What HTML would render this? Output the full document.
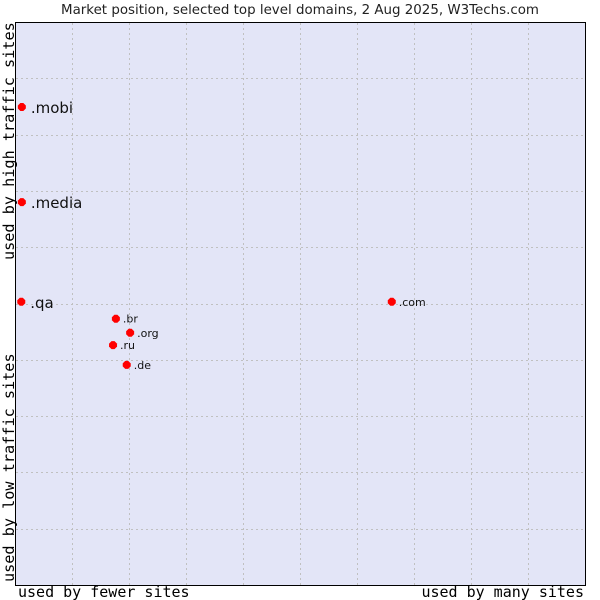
<!DOCTYPE html>
<html><head><meta charset="utf-8"><style>
body{margin:0;background:#fff;}
svg{display:block;font-family:"DejaVu Sans","Liberation Sans",sans-serif;}
</style></head><body>
<svg width="600" height="600">
<text x="300" y="14" text-anchor="middle" font-size="13.4" fill="#222">Market position, selected top level domains, 2 Aug 2025, W3Techs.com</text>
<rect x="15.5" y="22.5" width="570" height="563" fill="#e3e5f7" stroke="#000"/>
<g id="grid"></g>
<g id="pts"></g>
<text transform="translate(14,260) rotate(-90)" font-family="DejaVu Sans Mono,Liberation Mono,monospace" font-size="15.2" fill="#000">used by high traffic sites</text>
<text transform="translate(14,582) rotate(-90)" font-family="DejaVu Sans Mono,Liberation Mono,monospace" font-size="15.2" fill="#000">used by low traffic sites</text>
<text x="18" y="597" font-family="DejaVu Sans Mono,Liberation Mono,monospace" font-size="15" fill="#000">used by fewer sites</text>
<text x="584" y="597" text-anchor="end" font-family="DejaVu Sans Mono,Liberation Mono,monospace" font-size="15" fill="#000">used by many sites</text>
<script>
const labels=[".mobi",".media",".qa",".com",".br",".org",".ru",".de"];
const xVals=[1.2,1.2,1.1,66.1,17.7,20.2,17.2,19.6];
const yVals=[84.9,68.0,50.3,50.3,47.3,44.8,42.6,39.1];
const big=[true,true,true,false,false,false,false,false];
const L=15,R=585,T=22,B=585;
const sx=v=>L+v/100*(R-L), sy=v=>B-v/100*(B-T);
const NS="http://www.w3.org/2000/svg";
const g=document.getElementById('grid');
for(let i=1;i<10;i++){
 const a=document.createElementNS(NS,'line');
 
 
 const x=Math.round(sx(i*10))+0.5;
 a.setAttribute('x1',x);a.setAttribute('x2',x);a.setAttribute('y1',T+1);a.setAttribute('y2',B);
 a.setAttribute('stroke','#c0c0c0');a.setAttribute('stroke-dasharray','2,3');g.appendChild(a);
 const b=document.createElementNS(NS,'line');
 
 
 const y=Math.round(sy(i*10))+0.5;
 b.setAttribute('x1',L+1);b.setAttribute('x2',R);b.setAttribute('y1',y);b.setAttribute('y2',y);
 b.setAttribute('stroke','#c0c0c0');b.setAttribute('stroke-dasharray','2,3');g.appendChild(b);
}
const p=document.getElementById('pts');
labels.forEach((l,i)=>{
 const x=sx(xVals[i]),y=sy(yVals[i]);
 const c=document.createElementNS(NS,'polygon');
 
 
 c.setAttribute('points',`${x-4},${y-1.5} ${x-1.5},${y-4} ${x+1.5},${y-4} ${x+4},${y-1.5} ${x+4},${y+1.5} ${x+1.5},${y+4} ${x-1.5},${y+4} ${x-4},${y+1.5}`);
 c.setAttribute('fill','#ff0000');p.appendChild(c);
 const t=document.createElementNS(NS,'text');
 
 
 t.setAttribute('x',x+(big[i]?9:7));t.setAttribute('y',y+(big[i]?6:4));
 t.setAttribute('font-size',big[i]?15:11);t.setAttribute('fill','#111');
 t.textContent=l;p.appendChild(t);
});
</script>
</svg>
</body></html>
